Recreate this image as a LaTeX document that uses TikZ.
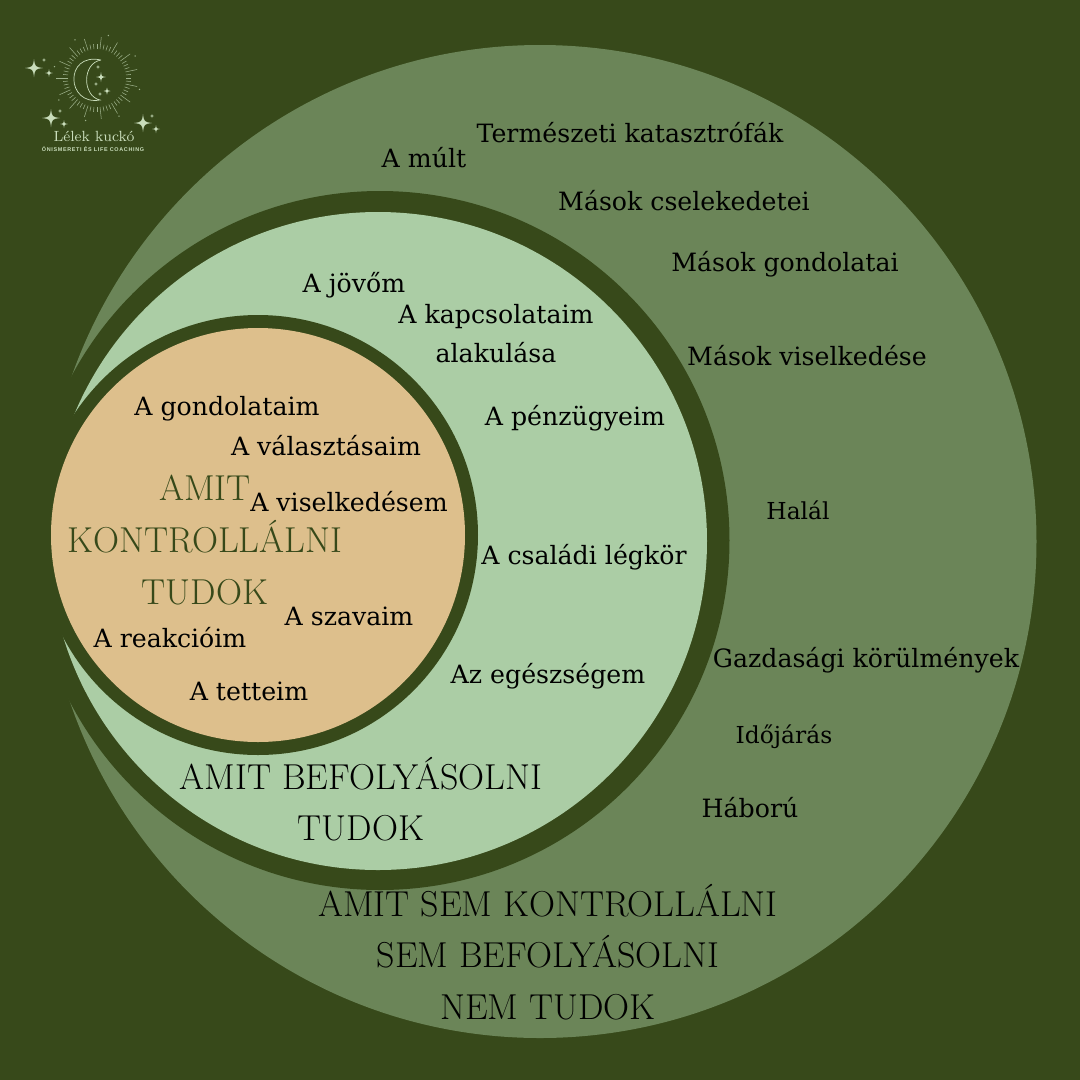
\documentclass[tikz,border=0pt]{standalone}
\usepackage{fontspec}
\newfontfamily\slabfont{DejaVu Serif}
\newfontfamily\logofont[LetterSpace=12]{Liberation Sans}
\definecolor{bgdark}{HTML}{37491A}
\definecolor{outergreen}{HTML}{6B8558}
\definecolor{midgreen}{HTML}{ABCDA5}
\definecolor{coretan}{HTML}{DDBF8C}
\definecolor{logolight}{HTML}{C9DDBB}
\tikzstyle{item}= [inner sep=0pt, text=black, font=\slabfont\fontsize{14.35}{17}\selectfont]
\tikzstyle{smallitem}= [item, font=\slabfont\fontsize{13.3}{17}\selectfont]
\tikzstyle{title}= [inner sep=0pt, align=center, text=black, font=\fontsize{20.5}{29.4}\selectfont]
\tikzstyle{ray}= [logolight!70!bgdark, line width=.3pt]
\tikzset{sparkle/.pic={\fill[logolight] (-1,0) .. controls (-.12,.12) .. (0,1) .. controls (.12,.12) .. (1,0) .. controls (.12,-.12) .. (0,-1) .. controls (-.12,-.12) .. (-1,0);}}

\begin{document}
\begin{tikzpicture}[x=.02cm, y=-.02cm]
    \useasboundingbox (0, 0) rectangle (1080, 1080);
    \fill[bgdark] (0, 0) rectangle (1080, 1080);

    % circles, back to front
    \fill[outergreen] (540, 541.5) circle[radius=496.5];
    \fill[bgdark] (380, 540.5) circle[radius=349.5];
    \fill[midgreen] (378, 541) circle[radius=329];
    \fill[bgdark] (258, 535) circle[radius=220];
    \fill[coretan] (258, 535) circle[radius=207];

    % outer ring
    \node[item] (past) at (424, 158) {A múlt};
    \node[item] (disasters) at (630, 133) {Természeti katasztrófák};
    \node[item] (actions) at (684, 201) {Mások cselekedetei};
    \node[item] (thoughts) at (785, 264) {Mások gondolatai};
    \node[item] (behaviour) at (807, 356) {Mások viselkedése};
    \node[smallitem] (death) at (798, 510) {Halál};
    \node[item] (economy) at (866, 660) {Gazdasági körülmények};
    \node[smallitem] (weather) at (784, 737) {Időjárás};
    \node[item] (war) at (750, 808) {Háború};

    % middle ring
    \node[item] (future) at (354, 285) {A jövőm};
    \node[item] (relations) at (496, 317) {A kapcsolataim};
    \node[item] (course) at (496, 353) {alakulása};
    \node[item] (money) at (575, 418) {A pénzügyeim};
    \node[item] (family) at (584, 557) {A családi légkör};
    \node[item] (health) at (548, 676) {Az egészségem};

    % core
    \node[item] (mythoughts) at (227, 409) {A gondolataim};
    \node[item] (choices) at (326, 446) {A választásaim};
    \node[item] (mybehaviour) at (349, 502) {A viselkedésem};
    \node[item] (words) at (349, 616) {A szavaim};
    \node[item] (reactions) at (170, 638) {A reakcióim};
    \node[item] (deeds) at (249, 691) {A tetteim};

    \node[title, text=bgdark] (coretitle) at (205, 540) {AMIT\\KONTROLLÁLNI\\TUDOK};
    \node[title] (midtitle) at (361, 799) {AMIT BEFOLYÁSOLNI\\TUDOK};
    \node[title] (outertitle) at (548, 952) {AMIT SEM KONTROLLÁLNI\\SEM BEFOLYÁSOLNI\\NEM TUDOK};

    % logo
    \begin{scope}[shift={(97, 78)}]
      \foreach \a in {0, 6, ..., 354} {
        \draw[ray] (\a:29) -- (\a:34);
      }
      \foreach \a in {12, 36, ..., 348} {
        \draw[ray] (\a:34) -- (\a:41);
      }
      \foreach \a in {15, 60, ..., 330} {
        \fill[ray] (\a:44) circle[radius=.8];
      }
    \end{scope}
    \draw[logolight, line width=.4pt] (101, 60) .. controls (64, 52) and (66, 106) .. (100, 100) .. controls (82, 96) and (82, 63) .. (101, 60);
    \foreach \x/\y/\r in {34/68/9, 49/73/4, 44/60/2, 51/118/9, 64/124/4, 60/111/2, 143/123/9, 156/129/4, 152/116/2, 101/77/5, 107/91/3.5, 96/84/2, 98/67/2, 100/94/2} {
      \pic[scale=\r] at (\x, \y) {sparkle};
    }
    \node[inner sep=0pt, text=logolight, font=\fontsize{8.4}{9}\selectfont] (logoname) at (94, 136) {Lélek kuckó};
    \node[inner sep=0pt, text=logolight, font=\logofont\fontsize{3.1}{4}\selectfont\bfseries] (logosub) at (93, 149) {ÖNISMERETI ÉS LIFE COACHING};
\end{tikzpicture}
\end{document}
